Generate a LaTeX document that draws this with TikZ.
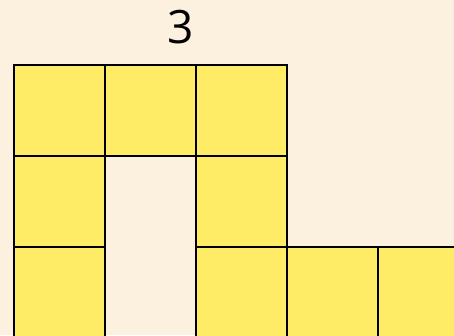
\documentclass[tikz,border=0pt]{standalone}
\usepackage{fontspec}
\setsansfont{Open Sans}
\usepackage{xcolor}
\usetikzlibrary{positioning}
\definecolor{cream}{HTML}{FCF0DE}
\definecolor{tileyellow}{HTML}{FFEC66}

\begin{document}
\begin{tikzpicture}[
  x=1pt, y=-1pt,
  cell/.style={rectangle, draw=black, fill=tileyellow, line width=2pt, minimum size=91pt, inner sep=0pt, outer sep=0pt},
  lab/.style={font=\sffamily\fontsize{46}{46}\selectfont, inner sep=0pt},
  node distance=0pt
]
\useasboundingbox (0,0) rectangle (454,335);
\clip (0,0) rectangle (454,335);
\fill[cream] (0,0) rectangle (454,335);
\node[cell] (a1) at (59,110.5) {};
\node[cell, right=of a1] (a2) {};
\node[cell, right=of a2] (a3) {};
\node[cell, below=of a1] (b1) {};
\node[cell, below=of a3] (b3) {};
\node[cell, below=of b1] (c1) {};
\node[cell, below=of b3] (c3) {};
\node[cell, right=of c3] (c4) {};
\node[cell, right=of c4] (c5) {};
\node[lab] (num) at (181,27) {3};
\end{tikzpicture}
\end{document}
